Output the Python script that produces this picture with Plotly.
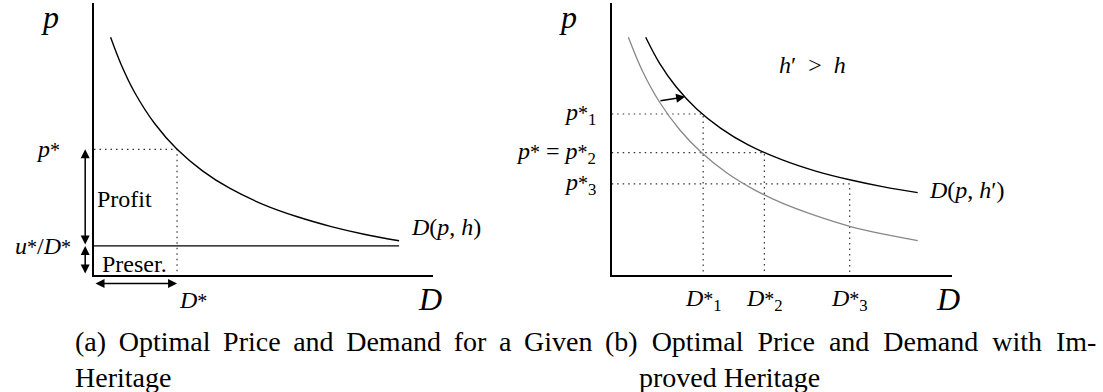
import plotly.graph_objects as go

# ---- panel (a): demand curve D(p,h) for a given heritage ----
d_a = [0.49, 0.8, 1.2, 1.8, 2.45, 3.2, 4.0, 5.0, 6.0, 7.0, 8.0, 9.0]
p_a = [8.74, 7.74, 6.71, 5.55, 4.62, 3.83, 3.19, 2.59, 2.14, 1.78, 1.49, 1.26]
p_star = 4.62
d_star = 2.45
u_level = 1.07      # u*/D*
d_max = 9.0

# ---- panel (b): improved heritage h' > h ----
d_hi = [1.0, 1.4, 1.9, 2.5, 3.2, 4.0, 5.0, 6.0, 7.0, 8.0, 9.0]
p_hi = [8.74, 7.80, 6.91, 6.10, 5.40, 4.79, 4.24, 3.82, 3.50, 3.24, 3.03]
d_lo = [0.49, 0.9, 1.4, 2.0, 2.64, 3.4, 4.2, 5.0, 6.0, 7.0, 8.0, 9.0]
p_lo = [8.74, 7.51, 6.37, 5.34, 4.50, 3.74, 3.13, 2.65, 2.18, 1.79, 1.50, 1.26]
p_opt = [5.92, 4.50, 3.35]
d_opt = [2.69, 4.49, 7.00]
STAR = '<span style="font-size:20px">*</span>'
p_labels = [f"<i>p</i>{STAR}<sub>1</sub>", f"<i>p</i>{STAR} = <i>p</i>{STAR}<sub>2</sub>",
            f"<i>p</i>{STAR}<sub>3</sub>"]
d_labels = [f"<i>D</i>{STAR}<sub>1</sub>", f"<i>D</i>{STAR}<sub>2</sub>", f"<i>D</i>{STAR}<sub>3</sub>"]
shift_from = (1.39, 6.40)
shift_to = (2.16, 6.55)

SERIF = "Liberation Serif"
W, H = 1103, 392

fig = go.Figure()
dot = dict(color="#333", width=1.2, dash="1.5px,4px")

# panel (a)
fig.add_trace(go.Scatter(x=[0, d_star, d_star], y=[p_star, p_star, 0], mode="lines", line=dot,
                         xaxis="x", yaxis="y"))
fig.add_trace(go.Scatter(x=[0, d_max], y=[u_level, u_level], mode="lines",
                         line=dict(color="black", width=1.4), xaxis="x", yaxis="y"))
fig.add_trace(go.Scatter(x=d_a, y=p_a, mode="lines", line=dict(color="black", width=1.4, shape="spline"),
                         xaxis="x", yaxis="y"))

# panel (b)
for pp, dd in zip(p_opt, d_opt):
    fig.add_trace(go.Scatter(x=[0, dd, dd], y=[pp, pp, 0], mode="lines", line=dot, xaxis="x2", yaxis="y2"))
fig.add_trace(go.Scatter(x=d_lo, y=p_lo, mode="lines", line=dict(color="#888", width=1.3, shape="spline"),
                         xaxis="x2", yaxis="y2"))
fig.add_trace(go.Scatter(x=d_hi, y=p_hi, mode="lines", line=dict(color="black", width=1.4, shape="spline"),
                         xaxis="x2", yaxis="y2"))

ax_common = dict(range=[0, 10], showgrid=False, zeroline=False, showticklabels=False, ticks="",
                 showline=True, linecolor="black", linewidth=1.5, fixedrange=True)
ydom = [(H - 275) / H, (H - 3) / H]
fig.update_layout(
    width=W, height=H, margin=dict(l=0, r=0, t=0, b=0),
    paper_bgcolor="white", plot_bgcolor="white", showlegend=False,
    xaxis=dict(domain=[94 / W, 433 / W], anchor="y", **ax_common),
    yaxis=dict(domain=ydom, anchor="x", **ax_common),
    xaxis2=dict(domain=[611.7 / W, 951.7 / W], anchor="y2", **ax_common),
    yaxis2=dict(domain=ydom, anchor="x2", **ax_common),
)

ann = []


def txt(text, x, y, xref, yref, size=24, xanchor="center", yanchor="middle"):
    ann.append(dict(text=text, x=x, y=y, xref=xref, yref=yref, showarrow=False,
                    xanchor=xanchor, yanchor=yanchor, font=dict(family=SERIF, size=size, color="black")))


def arrow(x, y, ax, ay, xref, yref, axref, ayref, both=True):
    ann.append(dict(text="", x=x, y=y, ax=ax, ay=ay, xref=xref, yref=yref, axref=axref, ayref=ayref,
                    showarrow=True, arrowhead=2, startarrowhead=2, arrowsize=1.2, startarrowsize=1.2,
                    arrowwidth=1.5, arrowcolor="black", standoff=0, startstandoff=0,
                    arrowside="end+start" if both else "end"))


# panel (a) labels
txt("<i>p</i>", -0.13, 0.95, "x domain", "y domain", size=32)
txt("<i>D</i>", 0.991, -0.088, "x domain", "y domain", size=32)
txt(f"<i>p</i>{STAR}", -0.094, p_star, "x domain", "y", xanchor="right")
txt(f"<i>u</i>{STAR}/<i>D</i>{STAR}", -0.062, u_level, "x domain", "y", xanchor="right")
txt(f"<i>D</i>{STAR}", d_star, -0.092, "x", "y domain", xanchor="left")
txt("Profit", 0.002, 0.278, "x domain", "y domain", xanchor="left")
txt("Preser.", 0.018, 0.04, "x domain", "y domain", xanchor="left")
txt("<i>D</i>(<i>p</i>, <i>h</i>)", 0.929, 0.176, "x domain", "y domain", xanchor="left")
arrow(-0.026, p_star, -0.026, u_level, "x domain", "y", "x domain", "y")
arrow(-0.026, u_level, -0.026, 0, "x domain", "y", "x domain", "y")
arrow(d_star, -0.031, 0, -0.031, "x", "y domain", "x", "y domain")

# panel (b) labels
txt("<i>p</i>", -0.13, 0.95, "x2 domain", "y2 domain", size=32)
txt("<i>D</i>", 0.989, -0.088, "x2 domain", "y2 domain", size=32)
for pp, lab in zip(p_opt, p_labels):
    txt(lab, -0.04, pp, "x2 domain", "y2", xanchor="right")
for dd, lab in zip(d_opt, d_labels):
    txt(lab, dd, -0.092, "x2", "y2 domain")
txt("<i>h</i>′\u2002>\u2002<i>h</i>", 0.592, 0.772, "x2 domain", "y2 domain")
txt("<i>D</i>(<i>p</i>, <i>h</i>′)", 0.927, 0.3125, "x2 domain", "y2 domain", xanchor="left")
arrow(shift_to[0], shift_to[1], shift_from[0], shift_from[1], "x2", "y2", "x2", "y2", both=False)

# captions (spaces widened to mimic the justified lines)
cap = 28
txt("(a) Optimal Price and Demand for a Given".replace(" ", " \u2009"), 73 / W, (H - 341) / H,
    "paper", "paper", size=cap, xanchor="left")
txt("Heritage", 73 / W, (H - 377) / H, "paper", "paper", size=cap, xanchor="left")
txt("(b) Optimal Price and Demand with Im-".replace(" ", "\u2002"), 603 / W, (H - 341) / H,
    "paper", "paper", size=cap, xanchor="left")
txt("proved Heritage", 637 / W, (H - 377) / H, "paper", "paper", size=cap, xanchor="left")

fig.update_layout(annotations=ann)
fig.write_html("out.html", config={"displayModeBar": False},
               post_script="document.body.style.margin='0px';")
